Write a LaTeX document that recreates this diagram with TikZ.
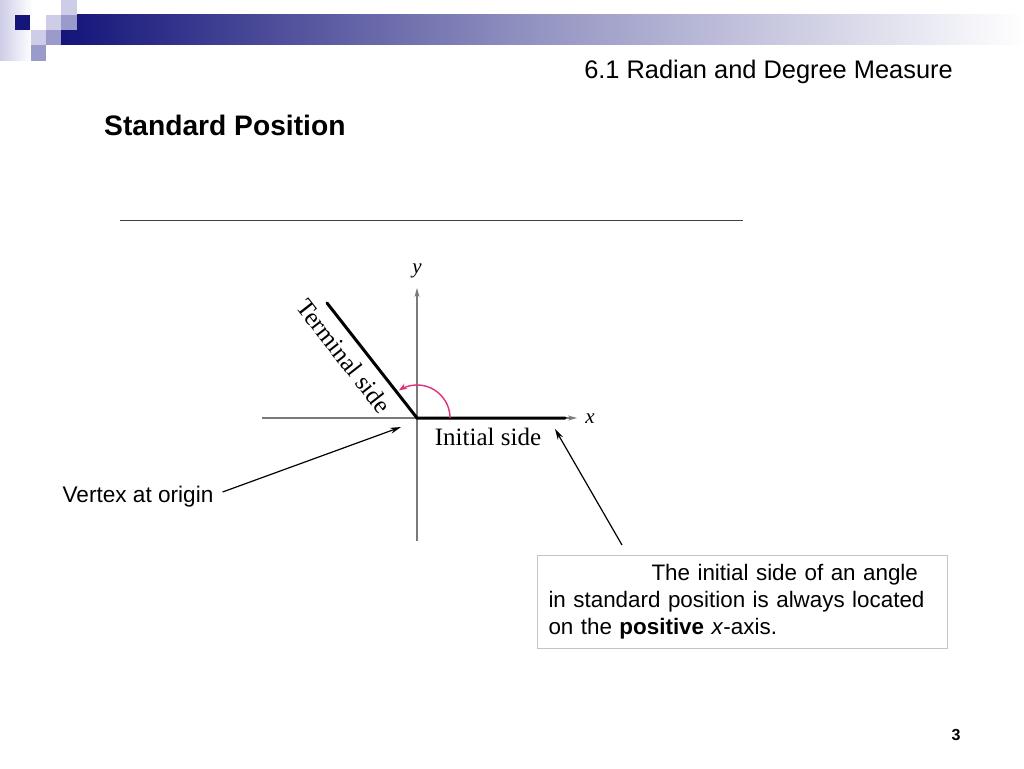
\documentclass[tikz,border=0pt]{standalone}
\usepackage{fontspec}
\setmainfont{Liberation Sans}
\newfontfamily\tnr{Liberation Serif}
\usetikzlibrary{arrows.meta,calc}
\definecolor{navy}{HTML}{14147A}
\definecolor{midsq}{HTML}{9A9ACB}
\definecolor{lightsq}{HTML}{CDCDE8}
\definecolor{axisgray}{HTML}{7A7A7A}
\definecolor{arcpink}{HTML}{E0307E}
\definecolor{boxgray}{HTML}{C4C4C4}
\tikzset{
  axisline/.style={axisgray, line width=1.3pt, -{Stealth[length=9pt,width=5pt]}},
  sideline/.style={black, line width=3pt},
  conn/.style={black, line width=1.2pt, -{Stealth[length=11pt,width=6pt]}},
  sans/.style={font=\fontsize{22.6}{27}\selectfont},
  boxtext/.style={font=\fontsize{22.4}{27}\selectfont},
  serif/.style={font=\tnr\fontsize{25}{30}\selectfont},
}
\begin{document}
\begin{tikzpicture}[x=1pt,y=-1pt]
\useasboundingbox (0,0) rectangle (1024,768);
\fill[white] (0,0) rectangle (1024,768);
% header decoration
\shade[left color=lightsq, right color=white] (0,0) rectangle (32,60);
\shade[left color=navy, right color=white, middle color=navy!45!white] (61,15) rectangle (1024,45);
\fill[navy] (15,15) rectangle (30,30);
\fill[lightsq] (46,15) rectangle (61,30);
\fill[midsq] (61,15) rectangle (77,30);
\fill[lightsq] (61,0) rectangle (77,15);
\fill[lightsq] (31,30) rectangle (46,45);
\fill[midsq] (46,30) rectangle (61,45);
\fill[midsq] (31,45) rectangle (46,61);
% titles
\node[anchor=east, font=\fontsize{25.4}{30}\selectfont, inner sep=0] (title) at (953,72) {6.1 Radian and Degree Measure};
\node[anchor=west, font=\bfseries\fontsize{28.2}{32}\selectfont, inner sep=0] (head) at (104,125) {Standard Position};
\draw[black!75, line width=0.9pt] (120,220) -- (743,220);
% axes
\coordinate (O) at (417,418);
\coordinate (xl) at (262,418);
\coordinate (xr) at (577,418);
\coordinate (yb) at (417,541);
\coordinate (yt) at (417,288);
\draw[axisgray, line width=1.3pt] (xl) -- (O);
\draw[axisline] (O) -- (xr);
\draw[axisgray, line width=1.3pt] (yb) -- (O);
\draw[axisline] (O) -- (yt);
\node[font=\tnr\itshape\fontsize{21}{24}\selectfont] (ylab) at (417,271) {y};
\node[font=\tnr\itshape\fontsize{21}{24}\selectfont] (xlab) at (590,419) {x};
% sides
\coordinate (term) at (327,303);
\coordinate (init) at (565,418);
\draw[sideline, line cap=round] (term) -- (O) -- (init);
\node[serif, rotate=-52, inner sep=0] (tlab) at (344,356) {Terminal side};
\node[serif] (ilab) at (488,437) {Initial side};
% angle arc
\draw[arcpink, line width=1.4pt, -{Stealth[length=8pt,width=6pt]}]
  plot[domain=0:123, samples=40] ({417+33*cos(\x)}, {418-33*sin(\x)});
% vertex label
\node[sans, inner sep=0] (vertex) at (138,497) {Vertex at origin};
\coordinate (vtip) at (401,427);
\draw[conn] ([shift={(9,-5)}]vertex.east) -- (vtip);
% note box
\node[draw=boxgray, line width=1pt, fill=white, anchor=north west, boxtext,
      minimum width=410pt, minimum height=93pt, text width=388pt,
      inner xsep=11pt, inner ysep=0pt, align=left] (note) at (537,555)
  {\vspace*{0pt}\hspace*{103pt}The initial side of an angle\\
   in standard position is always located\\
   on the \textbf{positive} \textit{x}-axis.};
\coordinate (ntip) at (555,429);
\draw[conn] ($(note.north west)+(85,-10)$) -- (ntip);
% page number
\node[font=\bfseries\fontsize{16}{18}\selectfont, inner sep=0] (page) at (956,735) {3};
\end{tikzpicture}
\end{document}
